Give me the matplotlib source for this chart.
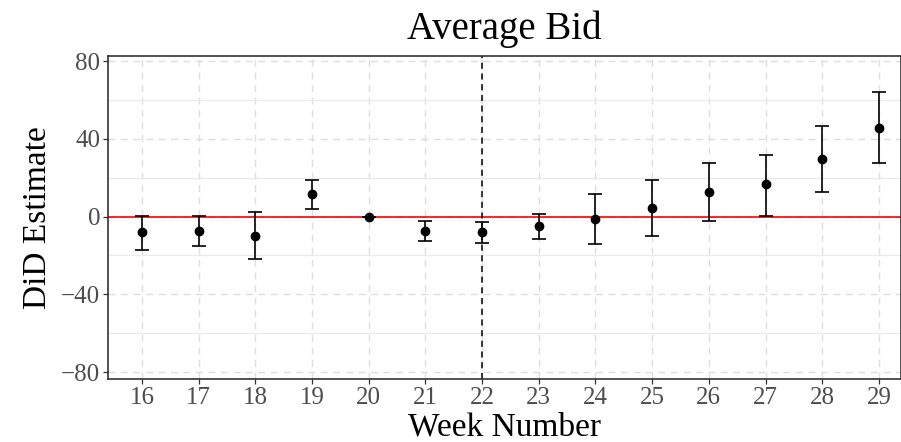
import matplotlib
matplotlib.use("Agg")
import matplotlib.pyplot as plt
import numpy as np

plt.rcParams['font.family'] = ['Liberation Serif', 'DejaVu Serif']

# event-study estimates
weeks = [16, 17, 18, 19, 20, 21, 22, 23, 24, 25, 26, 27, 28, 29]
estimate = [-8.1, -7.2, -10.1, 11.7, 0.0, -7.4, -8.1, -5.0, -1.2, 4.3, 12.7, 16.5, 29.8, 45.8]
ci_low = [-17.0, -15.3, -22.1, 4.0, 0.0, -12.5, -13.4, -11.7, -14.2, -9.9, -2.2, 0.5, 12.7, 27.4]
ci_high = [0.5, 0.5, 2.2, 18.9, 0.0, -2.2, -2.9, 1.4, 11.7, 18.9, 27.4, 31.7, 46.5, 63.9]
treat_week = 22

est = np.array(estimate)
yerr = np.vstack([est - np.array(ci_low), np.array(ci_high) - est])

fig = plt.figure(figsize=(9.01, 4.42), dpi=100)
ax = fig.add_axes([108/901, 63/442, 793/901, 323/442])

ax.set_xlim(15.40, 29.39)
ax.set_ylim(-83.6, 82.6)

# grid: dashed major, solid minor on y
ax.set_xticks(weeks)
ax.set_yticks([-80, -40, 0, 40, 80])
ax.set_yticks([-60, -20, 20, 60], minor=True)
ax.grid(True, which='major', color='#dedede', linestyle=(0, (5, 4)), linewidth=1.0)
ax.grid(True, which='minor', axis='y', color='#ebebeb', linestyle='-', linewidth=1.0)
ax.set_axisbelow(True)

ax.axhline(0, color='#ff0000', linewidth=1.2, zorder=2)
ax.axvline(treat_week, color='black', linestyle=(0, (4, 3)), linewidth=1.1, zorder=2)

ax.errorbar(weeks, estimate, yerr=yerr, fmt='o', color='black', ecolor='black',
            markersize=6, elinewidth=1.2, capsize=5, capthick=1.2, zorder=3)

for s in ax.spines.values():
    s.set_color('#333333')
    s.set_linewidth(1.2)

ax.tick_params(axis='both', which='major', length=3.6, color='#333333', width=0.9,
               labelsize=18, labelcolor='#4d4d4d', pad=2)
ax.tick_params(axis='y', which='minor', length=0)
ax.set_yticklabels(['\u221280', '\u221240', '0', '40', '80'])

ax.set_xlabel('Week Number', fontsize=24, labelpad=2)
ax.set_ylabel('DiD Estimate', fontsize=24, labelpad=6)
ax.set_title('Average Bid', fontsize=28, pad=12)

fig.savefig('out.png', dpi=100)
